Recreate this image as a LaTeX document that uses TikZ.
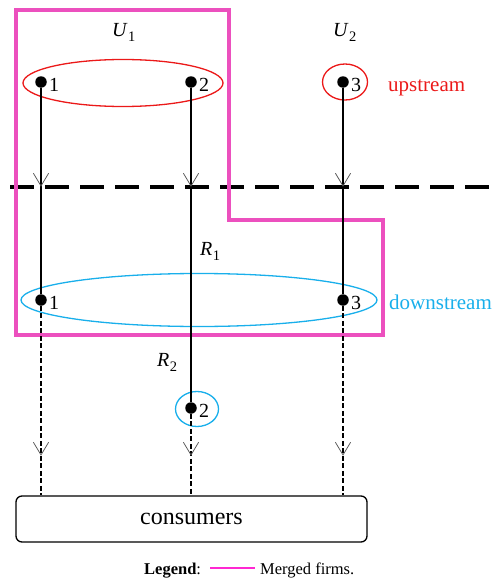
\documentclass[tikz,border=0pt]{standalone}
\usepackage{fontspec}
\setmainfont{Liberation Serif}
\usetikzlibrary{shapes.geometric,arrows.meta,decorations.markings}
\definecolor{mergedc}{RGB}{236,80,190}
\definecolor{legc}{RGB}{255,40,210}
\definecolor{upc}{RGB}{235,25,25}
\definecolor{downc}{RGB}{25,175,235}
\newcommand\firmlab[2]{\textit{#1}\kern0.5pt\raisebox{-5pt}{\fontsize{14.5}{16}\selectfont #2}}
\begin{document}
\begin{tikzpicture}[x=1pt,y=-1pt,
  dot/.style={circle,fill=black,inner sep=0pt,minimum size=11.5pt},
  num/.style={font=\fontsize{20}{24}\selectfont,inner sep=0pt,anchor=base west},
  mlab/.style={font=\fontsize{20}{24}\selectfont,inner sep=0pt,anchor=base west},
  grp/.style={ellipse,draw,line width=1.3pt,inner sep=0pt},
  flow/.style={line width=1.3pt},
  dflow/.style={line width=1.3pt,dash pattern=on 5pt off 2.5pt},
  cut/.style={line width=3.5pt,dash pattern=on 24pt off 11pt},
  merged/.style={draw=mergedc,line width=3.5pt},
  vtip/.style={postaction={decorate},decoration={markings,mark=at position #1 with {\draw[solid,line width=0.8pt,black!65,line cap=round] (-12.5pt,7.5pt) -- (0pt,0pt) -- (-12.5pt,-7.5pt);}}},
]
\useasboundingbox (0,0) rectangle (491,578);

% group ellipses
\node[grp,draw=upc,minimum width=200pt,minimum height=47pt] (gU1) at (123,83) {};
\node[grp,draw=upc,minimum width=45pt,minimum height=36pt] (gU2) at (345,82) {};
\node[grp,draw=downc,minimum width=356pt,minimum height=53pt] (gR1) at (199,300) {};
\node[grp,draw=downc,minimum width=43pt,minimum height=35pt] (gR2) at (197,409) {};

% cut line
\coordinate (hl) at (10,187);
\coordinate (hr) at (491,187);
\draw[cut] (hl) -- (hr);

% merged firms frame
\draw[merged] (16,10) -- (229,10) -- (229,220) -- (383,220) -- (383,335) -- (16,335) -- cycle;

% firms
\node[dot] (u1) at (41,82) {};
\node[dot] (u2) at (191,82) {};
\node[dot] (u3) at (343,82) {};
\node[dot] (d1) at (41,300) {};
\node[dot] (d3) at (343,300) {};
\node[dot] (d2) at (191,408) {};

\node[num] (lu1) at (49,91) {1};
\node[num] (lu2) at (199,91) {2};
\node[num] (lu3) at (351,91) {3};
\node[num] (ld1) at (49,309) {1};
\node[num] (ld3) at (351,309) {3};
\node[num] (ld2) at (199,417) {2};

% consumers
\node[draw,line width=1.3pt,rounded corners=6pt,minimum width=351pt,minimum height=46pt,inner sep=0pt,font=\fontsize{24}{28}\selectfont] (cons) at (191.5,519) {consumers};

% connectors
\draw[flow,vtip=98pt] (u1) -- (d1);
\draw[flow,vtip=98pt] (u2) -- (d2);
\draw[flow,vtip=98pt] (u3) -- (d3);
\draw[dflow,vtip=149pt] (d1) -- (d1 |- cons.north);
\draw[dflow,vtip=41pt] (d2) -- (d2 |- cons.north);
\draw[dflow,vtip=149pt] (d3) -- (d3 |- cons.north);

% labels
\node[mlab] (U1) at (112,37) {\firmlab{U}{1}};
\node[mlab] (U2) at (333,37) {\firmlab{U}{2}};
\node[mlab] (R1) at (200,255) {\firmlab{R}{1}};
\node[mlab] (R2) at (157,366) {\firmlab{R}{2}};
\node[anchor=base west,inner sep=0pt,text=upc,font=\fontsize{21}{24}\selectfont] (up) at (388,91) {upstream};
\node[anchor=base west,inner sep=0pt,text=downc,font=\fontsize{21}{24}\selectfont] (down) at (389,309) {downstream};

% legend
\node[anchor=base west,inner sep=0pt,font=\fontsize{16.5}{20}\selectfont] (leg) at (144,574) {\textbf{Legend}:};
\node[anchor=base west,inner sep=0pt,font=\fontsize{16.5}{20}\selectfont] (legt) at (260,574) {Merged firms.};
\draw[legc,line width=1.5pt] ([xshift=9pt,yshift=6pt]leg.base east) -- ([xshift=-5pt,yshift=6pt]legt.base west);
\end{tikzpicture}
\end{document}
